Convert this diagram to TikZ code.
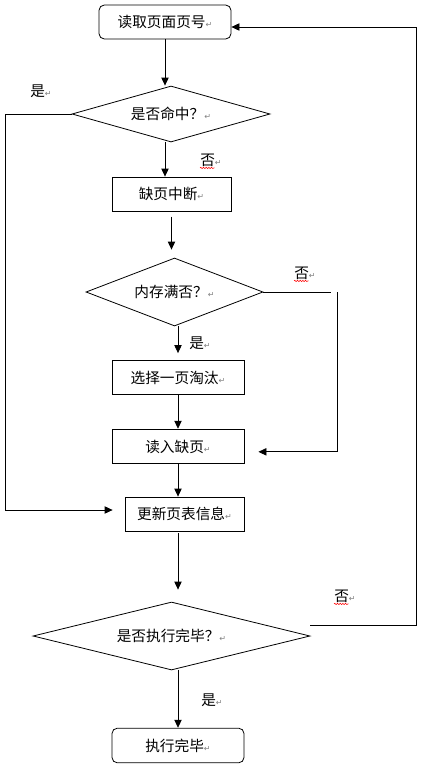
\documentclass[tikz,border=0pt]{standalone}
\usepackage{fontspec}
\setmainfont{Noto Sans CJK SC}
\newfontfamily\symfont{DejaVu Sans}
\usetikzlibrary{arrows.meta,shapes.geometric,decorations.pathmorphing}

% grauer Absatzmarker
\newcommand{\pmark}{\textcolor{gray}{\symfont\fontsize{6}{6}\selectfont ↵}}

\begin{document}
\begin{tikzpicture}[
  x=0.75pt, y=-0.75pt,
  every node/.style={font=\fontsize{11}{13}\selectfont, anchor=center},
  termbox/.style={draw, rounded corners=4pt, line width=0.6pt, minimum width=99pt, minimum height=26pt},
  procbox/.style={draw, line width=0.6pt, minimum height=26pt},
  decbox/.style={draw, diamond, line width=0.6pt, inner sep=0pt},
  lbl/.style={inner sep=0pt},
  arr/.style={line width=0.6pt, -{Triangle[length=6pt, width=5.5pt]}},
  ln/.style={line width=0.6pt},
  wavy/.style={red, line width=0.4pt, decorate, decoration={snake, amplitude=0.5pt, segment length=2pt}}
]
  \useasboundingbox (0,0) rectangle (424,771);

  % --- Knoten ---
  \node (start) [termbox, minimum height=25.5pt] at (165,22) {读取页面页号\pmark};
  \node (hit)   [decbox, aspect=3.54, minimum width=148.5pt, minimum height=42pt] at (171,114) {是否命中？\pmark};
  \node (intr)  [procbox, minimum width=89.25pt, minimum height=25.5pt] at (171.5,194) {缺页中断\pmark};
  \node (full)  [decbox, aspect=2.6, minimum width=132.75pt, minimum height=51pt] at (174.5,292) {内存满否？\pmark};
  \node (sel)   [procbox, minimum width=99pt] at (178,377.5) {选择一页淘汰\pmark};
  \node (load)  [procbox, minimum width=99pt] at (178,446.5) {读入缺页\pmark};
  \node (upd)   [procbox, minimum width=89.25pt, minimum height=25.5pt] at (184.5,514) {更新页表信息\pmark};
  \node (done)  [decbox, aspect=4.07, minimum width=207.75pt, minimum height=51pt] at (171.5,636) {是否执行完毕？\pmark};
  \node (stop)  [termbox] at (178,745.5) {执行完毕\pmark};

  % --- Beschriftungen ---
  \node (yes1) [lbl] at (41,91)   {是\pmark};
  \node (no1)  [lbl] at (211,160) {否\pmark};
  \node (no2)  [lbl] at (305,273) {否\pmark};
  \node (yes2) [lbl] at (200,343) {是\pmark};
  \node (no3)  [lbl] at (345,596) {否\pmark};
  \node (yes3) [lbl] at (212,700) {是\pmark};

  \draw[wavy] ([yshift=-1pt]no1.south west) -- ++(11pt,0);
  \draw[wavy] ([yshift=-1pt]no2.south west) -- ++(11pt,0);
  \draw[wavy] ([yshift=-1pt]no3.south west) -- ++(11pt,0);

  % --- Verbindungen ---
  \coordinate (fr) at (337,292);
  \coordinate (rb) at (416,625);
  \coordinate (dr) at (310,625);

  \draw[arr] (start.south) -- (start.south |- hit.north);
  \draw[arr] ([xshift=-4.5pt]hit.south) -- ([xshift=-4.5pt]hit.south |- intr.north);
  \draw[arr] ([yshift=-4pt]intr.south) -- ([yshift=6pt]intr.south |- full.north);
  \draw[arr] (sel.north |- full.south) -- ([yshift=5pt]sel.north);
  \draw[arr] (sel.south) -- (load.north);
  \draw[arr] (load.south) -- (load.south |- upd.north);
  \draw[ln]  (full.east) -- ([xshift=-4.5pt]fr);
  \draw[arr] (fr) |- ([xshift=10.5pt,yshift=-4pt]load.east);
  \draw[arr] (hit.west) -- ++(-66,0) |- ([xshift=-9pt,yshift=3pt]upd.west);
  \draw[arr] ([yshift=-1.5pt]load.south |- upd.south) -- ([yshift=9pt]load.south |- done.north);
  \draw[arr] (dr) -- (rb) |- ([yshift=-3.75pt]start.east);
  \draw[arr] (stop.north |- done.south) -- (stop.north);
\end{tikzpicture}
\end{document}
